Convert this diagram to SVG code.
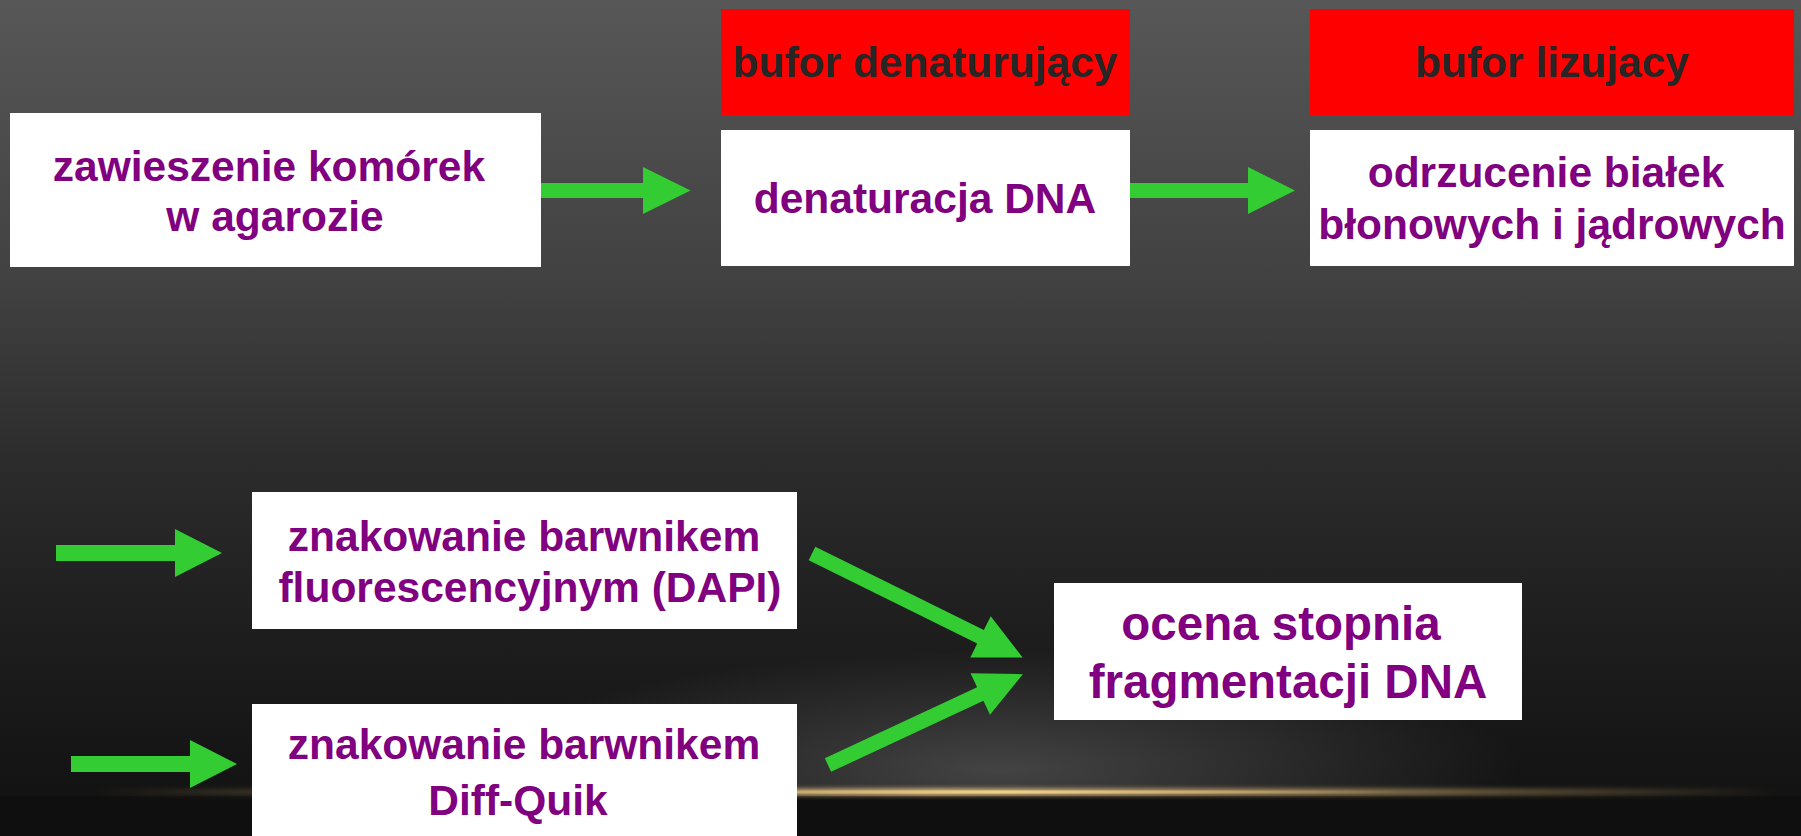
<svg xmlns="http://www.w3.org/2000/svg" width="1801" height="836" viewBox="0 0 1801 836">
  <defs>
    <linearGradient id="bg" x1="0" y1="0" x2="0" y2="1">
      <stop offset="0" stop-color="#575757"/>
      <stop offset="0.35" stop-color="#404040"/>
      <stop offset="0.55" stop-color="#2c2c2c"/>
      <stop offset="0.75" stop-color="#1e1e1e"/>
      <stop offset="1" stop-color="#101010"/>
    </linearGradient>
    <radialGradient id="glow" cx="0.5" cy="0.5" r="0.5">
      <stop offset="0" stop-color="#6a6a6a" stop-opacity="0.55"/>
      <stop offset="1" stop-color="#6a6a6a" stop-opacity="0"/>
    </radialGradient>
    <linearGradient id="gold" x1="0" y1="0" x2="1" y2="0">
      <stop offset="0" stop-color="#e8c078" stop-opacity="0"/>
      <stop offset="0.3" stop-color="#e8c078" stop-opacity="0.6"/>
      <stop offset="0.5" stop-color="#f3d08a" stop-opacity="1"/>
      <stop offset="0.75" stop-color="#e8c078" stop-opacity="0.6"/>
      <stop offset="1" stop-color="#e8c078" stop-opacity="0"/>
    </linearGradient>
    <filter id="blur" x="-0.1" y="-3" width="1.2" height="7">
      <feGaussianBlur stdDeviation="2.5"/>
    </filter>
    <style>
      .box { fill: #ffffff; }
      .red { fill: #ff0000; }
      .t { font-family: "Liberation Sans", Arial, sans-serif; font-weight: bold; font-size: 42.5px; fill: #800080; text-anchor: middle; }
      .tb { font-size: 47.5px; }
      .dk { fill: #262626; }
      .arr { fill: #33cc33; }
    </style>
  </defs>

  <rect x="0" y="0" width="1801" height="836" fill="url(#bg)"/>
  <ellipse cx="1000" cy="770" rx="520" ry="120" fill="url(#glow)"/>
  <rect x="0" y="796" width="1801" height="40" fill="#0f0f0f"/>
  <rect x="90" y="789" width="1690" height="6" fill="url(#gold)" filter="url(#blur)"/>
  <rect x="600" y="790.5" width="800" height="3" fill="url(#gold)"/>

  <g id="connectors">
    <polygon class="arr" points="541,183 643,183 643,167 690.5,190.5 643,214 643,198 541,198"/>
    <polygon class="arr" points="1130,183 1248,183 1248,167 1295,190.5 1248,214 1248,198 1130,198"/>
    <polygon class="arr" points="56,545 175,545 175,529 222,553 175,577 175,561 56,561"/>
    <polygon class="arr" points="71,756 190,756 190,740 237,764 190,788 190,772 71,772"/>
    <polygon class="arr" transform="translate(812,553.5) rotate(26.3)" points="0,-7.5 188,-7.5 188,-23 235,0 188,23 188,7.5 0,7.5"/>
    <polygon class="arr" transform="translate(828,765) rotate(-25)" points="0,-7.5 168,-7.5 168,-23 215,0 168,23 168,7.5 0,7.5"/>
  </g>

  <g id="n1">
    <rect class="box" x="10" y="113" width="531" height="154"/>
    <text class="t" x="269" y="181">zawieszenie komórek</text>
    <text class="t" x="275" y="231">w agarozie</text>
  </g>

  <g id="buf1">
    <rect class="red" x="721" y="9" width="409" height="106"/>
    <text class="t dk" x="925" y="77">bufor denaturujący</text>
  </g>

  <g id="n2">
    <rect class="box" x="721" y="130" width="409" height="136"/>
    <text class="t" x="925" y="213">denaturacja DNA</text>
  </g>

  <g id="buf2">
    <rect class="red" x="1310" y="9" width="484" height="106"/>
    <text class="t dk" x="1552" y="77">bufor lizujacy</text>
  </g>

  <g id="n3">
    <rect class="box" x="1310" y="130" width="484" height="136"/>
    <text class="t" x="1546" y="187">odrzucenie białek</text>
    <text class="t" x="1552" y="239">błonowych i jądrowych</text>
  </g>

  <g id="n4">
    <rect class="box" x="252" y="492" width="545" height="137"/>
    <text class="t" x="524" y="551">znakowanie barwnikem</text>
    <text class="t" x="530" y="602">fluorescencyjnym (DAPI)</text>
  </g>

  <g id="n5">
    <rect class="box" x="252" y="704" width="545" height="140"/>
    <text class="t" x="524" y="759">znakowanie barwnikem</text>
    <text class="t" x="518" y="815">Diff-Quik</text>
  </g>

  <g id="n6">
    <rect class="box" x="1054" y="583" width="468" height="137"/>
    <text class="t tb" x="1281" y="640">ocena stopnia</text>
    <text class="t tb" x="1288" y="698">fragmentacji DNA</text>
  </g>
</svg>
